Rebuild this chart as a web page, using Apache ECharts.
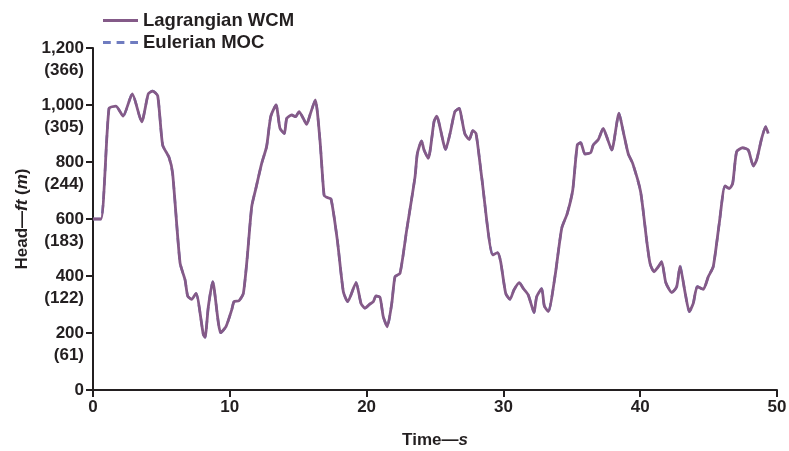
<!DOCTYPE html>
<html>
<head>
<meta charset="utf-8">
<script src="https://cdn.jsdelivr.net/npm/echarts@6/dist/echarts.min.js"></script>
<style>
  html, body { margin: 0; padding: 0; background: #fff; }
  #chart { width: 789px; height: 451px; }
</style>
</head>
<body>
<div id="chart"></div>
<script>
// Elapsed time, s
const timeSec = [
  0, 0.58, 1.17, 1.68, 2.2, 2.87, 3.56, 4.04, 4.36, 4.73, 5.09, 5.56, 5.82, 6.36, 6.73, 6.92,
  7.21, 7.53, 8.06, 8.19, 8.43, 8.75, 9.33, 9.72, 10.14, 10.31, 10.67, 10.99, 11.28, 11.6, 11.89,
  12.33, 12.69, 12.99, 13.38, 13.67, 13.99, 14.16, 14.52, 14.81, 15.06, 15.37, 15.62, 15.86, 16.25,
  16.59, 16.89, 17.08, 17.4, 17.86, 18.3, 18.62, 19.23, 19.59, 19.88, 20.25, 20.49, 20.69, 20.98,
  21.22, 21.51, 21.84, 22.08, 22.44, 22.93, 23.54, 23.71, 24.02, 24.2, 24.51, 24.93, 25.12, 25.78,
  26.1, 26.46, 26.78, 26.95, 27.19, 27.51, 27.76, 28, 28.41, 29.22, 29.58, 29.8, 30.17, 30.48,
  30.77, 31.16, 31.46, 31.82, 32.24, 32.43, 32.8, 32.99, 33.28, 33.77, 34.26, 34.67, 35.07, 35.4,
  35.65, 35.96, 36.38, 36.57, 36.94, 37.3, 37.55, 37.92, 38.45, 38.76, 39.13, 39.45, 40.03, 40.47,
  40.72, 41.01, 41.33, 41.57, 41.87, 42.31, 42.67, 42.91, 43.27, 43.59, 43.88, 44.17, 44.61, 44.98,
  45.34, 45.78, 46.2, 46.51, 46.76, 47.05, 47.49, 47.9, 48.27, 48.51, 48.88, 49.17, 49.36
];

// Head from the Lagrangian wave-characteristic model, ft
const headWCM = [
  600, 600, 988, 996, 961, 1039, 941, 1039, 1049, 1032, 860, 816, 760, 447, 386, 330,
  318, 339, 196, 185, 292, 380, 201, 222, 281, 310, 313, 339, 468, 643, 704,
  795, 854, 959, 1000, 918, 900, 953, 965, 959, 977, 953, 932, 965, 1018,
  877, 684, 676, 670, 526, 345, 310, 377, 304, 287, 302, 310, 330, 325,
  257, 222, 304, 398, 409, 561, 748, 830, 874, 842, 813, 942, 961, 844,
  900, 977, 988, 953, 898, 879, 910, 900, 748, 474, 482, 450, 339, 318,
  351, 377, 356, 333, 272, 327, 356, 295, 275, 398, 567, 620, 702, 860,
  868, 828, 833, 860, 879, 918, 889, 842, 971, 907, 828, 795, 696, 526,
  444, 415, 433, 450, 377, 342, 363, 435, 345, 275, 304, 363, 353, 398,
  433, 585, 716, 707, 725, 836, 850, 842, 786, 807, 883, 924, 900
];

// Head from the Eulerian method of characteristics, ft (coincides with the WCM trace)
const headMOC = headWCM.slice();

// Tick labels: feet with metres underneath
const yTicksFt = [0, 200, 400, 600, 800, 1000, 1200];
const yTicksM = ['(0)', '(61)', '(122)', '(183)', '(244)', '(305)', '(366)'];

const ink = '#231f20';
const narrow = '"Liberation Sans Narrow", "Liberation Sans", Arial, sans-serif';
const regular = '"Liberation Sans", Arial, sans-serif';

const pairs = (xs, ys) => xs.map((x, i) => [x, ys[i]]);

const chart = echarts.init(document.getElementById('chart'), null, { renderer: 'canvas' });
chart.setOption({
  animation: false,
  backgroundColor: '#fff',
  grid: { left: 93, right: 12, top: 48, bottom: 61, outerBoundsMode: 'none', containLabel: false },
  legend: {
    orient: 'vertical',
    left: 98,
    top: 6,
    itemWidth: 35,
    itemHeight: 12,
    itemGap: 3,
    textStyle: { color: ink, fontFamily: regular, fontWeight: 'bold', fontSize: 18.5 },
    data: [
      { name: 'Lagrangian WCM', icon: 'path://M0,0 L36,0 L36,3 L0,3 Z' },
      { name: 'Eulerian MOC', icon: 'path://M0,0 L8,0 L8,3 L0,3 Z M14,0 L22,0 L22,3 L14,3 Z M28,0 L36,0 L36,3 L28,3 Z' }
    ]
  },
  xAxis: {
    type: 'value',
    min: 0, max: 50, interval: 10,
    name: 'Time—{i|s}',
    nameLocation: 'middle',
    nameGap: 42,
    nameTextStyle: {
      color: ink, fontFamily: narrow, fontWeight: 'bold', fontSize: 17,
      rich: { i: { fontStyle: 'italic', fontWeight: 'bold', fontFamily: narrow, fontSize: 17, color: ink } }
    },
    axisLine: { onZero: false, lineStyle: { color: ink, width: 2 } },
    axisTick: { show: true, length: 7, lineStyle: { color: ink, width: 2 } },
    axisLabel: {
      color: ink, fontFamily: narrow, fontWeight: 'bold', fontSize: 17, margin: 9,
      showMinLabel: true, showMaxLabel: true, hideOverlap: false
    },
    splitLine: { show: false }
  },
  yAxis: {
    type: 'value',
    min: 0, max: 1200, interval: 200,
    name: 'Head—{i|ft} ({i|m})',
    nameLocation: 'middle',
    nameGap: 61,
    nameRotate: 90,
    nameTextStyle: {
      color: ink, fontFamily: regular, fontWeight: 'bold', fontSize: 17,
      rich: { i: { fontStyle: 'italic', fontWeight: 'bold', fontFamily: regular, fontSize: 17, color: ink } }
    },
    axisLine: { show: true, lineStyle: { color: ink, width: 2 } },
    axisTick: { show: true, length: 7, lineStyle: { color: ink, width: 2 } },
    axisLabel: {
      color: ink, fontFamily: narrow, fontWeight: 'bold', fontSize: 17, margin: 9,
      lineHeight: 22,
      verticalAlign: 'top',
      padding: [-11, 0, 0, 0],
      showMinLabel: true, showMaxLabel: true, hideOverlap: false,
      formatter: (v) => {
        const i = yTicksFt.indexOf(v);
        if (i <= 0) return String(v);
        return v.toLocaleString('en-US') + '\n' + yTicksM[i];
      }
    },
    splitLine: { show: false }
  },
  series: [
    {
      name: 'Eulerian MOC',
      type: 'line',
      data: pairs(timeSec, headMOC),
      showSymbol: false,
      smooth: 0.2,
      z: 2,
      lineStyle: { color: '#6f7cc0', width: 2.5, type: [8, 6] },
      itemStyle: { color: '#6f7cc0' }
    },
    {
      name: 'Lagrangian WCM',
      type: 'line',
      data: pairs(timeSec, headWCM),
      showSymbol: false,
      smooth: 0.2,
      z: 3,
      lineStyle: { color: '#845a88', width: 2.8 },
      itemStyle: { color: '#845a88' }
    }
  ]
});
</script>
</body>
</html>
